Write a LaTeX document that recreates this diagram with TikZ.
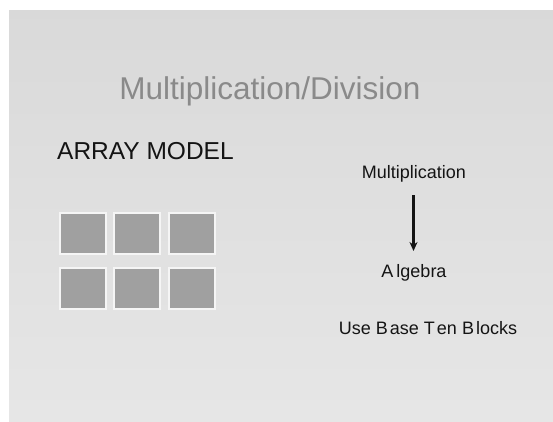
\documentclass[tikz,border=0pt]{standalone}
\usepackage{fontspec}
\setmainfont{Liberation Sans}
\usetikzlibrary{arrows.meta}
\definecolor{slidebg}{HTML}{E0E0E0}
\definecolor{titlegray}{HTML}{8A8A8A}
\definecolor{blockgray}{HTML}{A0A0A0}
\definecolor{textblack}{HTML}{141414}
\begin{document}
\begin{tikzpicture}[x=1pt,y=-1pt,
  blockbox/.style={fill=blockgray,draw=white!92!gray,line width=1.2pt},
  bodytext/.style={text=textblack,inner sep=0pt,font=\fontsize{18}{20}\selectfont}]
\useasboundingbox (0,0) rectangle (553,422);
\fill[white] (0,0) rectangle (553,422);
\shade[top color=slidebg!97!black,bottom color=slidebg!80!white] (9,11) rectangle (553,422);
\node[text=titlegray,inner sep=0pt,font=\fontsize{31.5}{34}\selectfont] (title) at (270,91) {Multiplication/Division};
\node[text=textblack,inner sep=0pt,anchor=west,font=\fontsize{24.5}{27}\selectfont] (array) at (57,151) {ARRAY MODEL};
\foreach \c/\x in {1/60,2/114,3/169}{
  \foreach \r/\y in {1/213,2/268}{
    \draw[blockbox] (\x,\y) rectangle ++(46,41);
  }
}
\node[bodytext] (mult) at (414,174) {Multiplication};
\node[bodytext] (alg) at (414,273) {A\kern3pt lgebra};
\node[bodytext] (base) at (428,328) {Use B\kern2pt ase T\kern2pt en B\kern2pt locks};
\coordinate (astart) at (413.5,195);
\coordinate (aend) at (413.5,251);
\draw[line width=2.2pt,-{Stealth[length=9pt,width=8pt]},textblack] (astart) -- (aend);
\end{tikzpicture}
\end{document}
